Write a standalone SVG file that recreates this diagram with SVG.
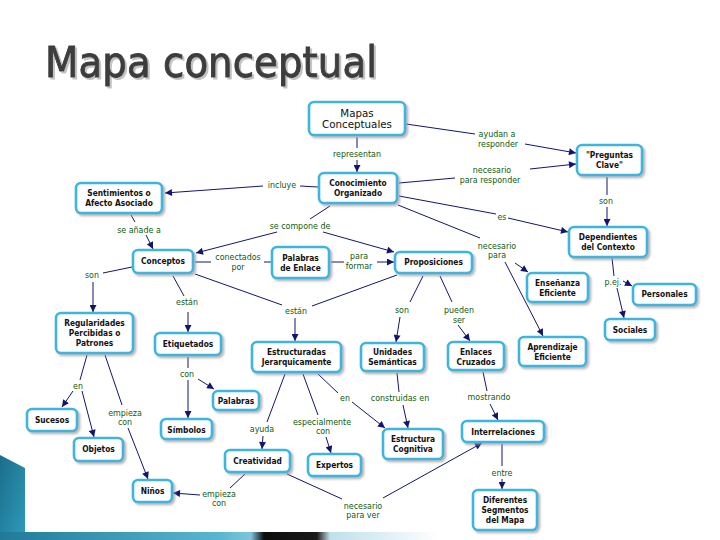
<svg xmlns="http://www.w3.org/2000/svg" width="720" height="540" viewBox="0 0 720 540">
<defs>
<filter id="ds" x="-20%" y="-20%" width="150%" height="160%">
<feDropShadow dx="2" dy="2" stdDeviation="0.8" flood-color="#9a9a9a" flood-opacity="0.7"/>
</filter>
<filter id="ts" x="-5%" y="-10%" width="110%" height="130%">
<feDropShadow dx="2" dy="2" stdDeviation="0.6" flood-color="#bdbdbd" flood-opacity="0.9"/>
</filter>
<marker id="ah" viewBox="0 0 10 10" refX="10" refY="5" markerWidth="8" markerHeight="7" markerUnits="userSpaceOnUse" orient="auto">
<path d="M0,0 L10,5 L0,10 Z" fill="#141470"/>
</marker>
<linearGradient id="lstrip" x1="0" y1="0" x2="1" y2="1">
<stop offset="0" stop-color="#1b6d8a"/>
<stop offset="1" stop-color="#2f9bbb"/>
</linearGradient>
<linearGradient id="bstrip" x1="0" y1="0" x2="1" y2="0">
<stop offset="0" stop-color="#1f7a98"/>
<stop offset="0.5" stop-color="#5ab6d0"/>
<stop offset="0.57" stop-color="#7cc6da"/>
<stop offset="0.6" stop-color="#0d0d0d"/>
<stop offset="0.72" stop-color="#1a1a1a"/>
<stop offset="0.75" stop-color="#bfe0ea"/>
<stop offset="1" stop-color="#ffffff"/>
</linearGradient>
</defs>
<style>
.box{fill:#ffffff;stroke:#3db5df;stroke-width:2.6}
.nt{font-family:"DejaVu Sans Condensed","DejaVu Sans",sans-serif;font-weight:bold;font-size:8.3px;fill:#111111;text-anchor:middle}
.mt{font-family:"DejaVu Sans",sans-serif;font-size:10.3px;fill:#111111;text-anchor:middle}
.lb{font-family:"DejaVu Sans Condensed","DejaVu Sans",sans-serif;font-size:8.8px;fill:#0e5a0e;text-anchor:middle}
.cn{stroke:#141470;stroke-width:1;fill:none}
.ar{marker-end:url(#ah)}
.title{font-family:"DejaVu Sans Condensed","DejaVu Sans",sans-serif;font-size:43px;fill:#3c3c3c;stroke:#3c3c3c;stroke-width:0.9}
</style>
<rect width="720" height="540" fill="#ffffff"/>
<g id="decoration">
<polygon points="0,455 25,468 25,540 0,540" fill="url(#lstrip)"/>
<rect x="0" y="532" width="440" height="8" fill="url(#bstrip)"/>
</g>
<text class="title" x="45" y="77" textLength="332" lengthAdjust="spacingAndGlyphs" filter="url(#ts)">Mapa conceptual</text>

<g id="connectors">
<line class="cn" x1="357" y1="137" x2="357" y2="148"/>
<line class="cn ar" x1="357" y1="160" x2="357" y2="172"/>
<line class="cn" x1="318" y1="187" x2="300" y2="186"/>
<line class="cn ar" x1="263" y1="186" x2="165" y2="193"/>
<line class="cn" x1="131" y1="215" x2="135" y2="222"/>
<line class="cn ar" x1="146" y1="235" x2="153" y2="249"/>
<line class="cn" x1="330" y1="206" x2="310" y2="219"/>
<line class="cn ar" x1="277" y1="232" x2="196" y2="253"/>
<line class="cn ar" x1="323" y1="232" x2="394" y2="252"/>
<line class="cn" x1="195" y1="262" x2="211" y2="262"/>
<line class="cn" x1="264" y1="262" x2="271" y2="262"/>
<line class="cn" x1="331" y1="262" x2="344" y2="262"/>
<line class="cn ar" x1="377" y1="262" x2="394" y2="262"/>
<line class="cn" x1="173" y1="276" x2="184" y2="296"/>
<line class="cn ar" x1="188" y1="312" x2="188" y2="332"/>
<line class="cn" x1="195" y1="274" x2="282" y2="305"/>
<line class="cn" x1="397" y1="275" x2="312" y2="306"/>
<line class="cn ar" x1="295" y1="318" x2="295" y2="341"/>
<line class="cn" x1="132" y1="267" x2="103" y2="273"/>
<line class="cn ar" x1="93" y1="282" x2="93" y2="312"/>
<line class="cn" x1="423" y1="276" x2="410" y2="302"/>
<line class="cn ar" x1="400" y1="317" x2="396" y2="342"/>
<line class="cn" x1="440" y1="276" x2="452" y2="302"/>
<line class="cn ar" x1="458" y1="325" x2="470" y2="341"/>
<line class="cn" x1="406" y1="124" x2="475" y2="134"/>
<line class="cn ar" x1="525" y1="144" x2="576" y2="153"/>
<line class="cn" x1="399" y1="183" x2="455" y2="178"/>
<line class="cn ar" x1="530" y1="169" x2="576" y2="164"/>
<line class="cn" x1="399" y1="196" x2="496" y2="214"/>
<line class="cn ar" x1="508" y1="218" x2="568" y2="232"/>
<line class="cn" x1="607" y1="177" x2="607" y2="195"/>
<line class="cn ar" x1="607" y1="207" x2="607" y2="226"/>
<line class="cn" x1="398" y1="205" x2="480" y2="238"/>
<line class="cn ar" x1="515" y1="263" x2="528" y2="272"/>
<line class="cn ar" x1="505" y1="262" x2="543" y2="336"/>
<line class="cn" x1="612" y1="258" x2="614" y2="276"/>
<line class="cn ar" x1="617" y1="288" x2="624" y2="318"/>
<line class="cn ar" x1="623" y1="281" x2="632" y2="286"/>
<line class="cn" x1="87" y1="355" x2="80" y2="380"/>
<line class="cn ar" x1="73" y1="391" x2="62" y2="407"/>
<line class="cn ar" x1="82" y1="391" x2="94" y2="437"/>
<line class="cn" x1="105" y1="355" x2="122" y2="405"/>
<line class="cn ar" x1="128" y1="428" x2="148" y2="479"/>
<line class="cn" x1="188" y1="357" x2="188" y2="368"/>
<line class="cn ar" x1="188" y1="380" x2="188" y2="418"/>
<line class="cn ar" x1="198" y1="379" x2="214" y2="389"/>
<line class="cn" x1="285" y1="374" x2="267" y2="422"/>
<line class="cn ar" x1="263" y1="436" x2="262" y2="449"/>
<line class="cn" x1="303" y1="374" x2="318" y2="415"/>
<line class="cn ar" x1="326" y1="437" x2="331" y2="453"/>
<line class="cn" x1="318" y1="374" x2="338" y2="393"/>
<line class="cn ar" x1="352" y1="402" x2="385" y2="428"/>
<line class="cn" x1="397" y1="373" x2="399" y2="392"/>
<line class="cn ar" x1="403" y1="405" x2="408" y2="428"/>
<line class="cn" x1="483" y1="372" x2="487" y2="391"/>
<line class="cn ar" x1="490" y1="404" x2="498" y2="420"/>
<line class="cn" x1="502" y1="444" x2="502" y2="466"/>
<line class="cn ar" x1="502" y1="479" x2="502" y2="489"/>
<line class="cn" x1="245" y1="474" x2="230" y2="488"/>
<line class="cn ar" x1="200" y1="495" x2="173" y2="493"/>
<line class="cn" x1="287" y1="474" x2="342" y2="499"/>
<line class="cn ar" x1="383" y1="498" x2="482" y2="443"/>
</g>

<g id="labels">
<text class="lb" x="357" y="157">representan</text>
<text class="lb" x="282" y="188">incluye</text>
<text class="lb" x="139" y="233">se añade a</text>
<text class="lb" x="300" y="229">se compone de</text>
<text class="lb" x="238" y="260">conectados</text>
<text class="lb" x="238" y="270">por</text>
<text class="lb" x="359" y="259">para</text>
<text class="lb" x="359" y="269">formar</text>
<text class="lb" x="187" y="305">están</text>
<text class="lb" x="296" y="314">están</text>
<text class="lb" x="92" y="278">son</text>
<text class="lb" x="402" y="313">son</text>
<text class="lb" x="459" y="313">pueden</text>
<text class="lb" x="459" y="323">ser</text>
<text class="lb" x="497" y="137">ayudan a</text>
<text class="lb" x="498" y="147">responder</text>
<text class="lb" x="492" y="173">necesario</text>
<text class="lb" x="490" y="183">para responder</text>
<text class="lb" x="502" y="220">es</text>
<text class="lb" x="606" y="204">son</text>
<text class="lb" x="497" y="249">necesario</text>
<text class="lb" x="497" y="258">para</text>
<text class="lb" x="613" y="285">p.ej.</text>
<text class="lb" x="78" y="389">en</text>
<text class="lb" x="125" y="416">empieza</text>
<text class="lb" x="125" y="425">con</text>
<text class="lb" x="187" y="377">con</text>
<text class="lb" x="262" y="432">ayuda</text>
<text class="lb" x="322" y="425">especialmente</text>
<text class="lb" x="323" y="434">con</text>
<text class="lb" x="345" y="401">en</text>
<text class="lb" x="400" y="401">construidas en</text>
<text class="lb" x="489" y="400">mostrando</text>
<text class="lb" x="502" y="476">entre</text>
<text class="lb" x="219" y="497">empieza</text>
<text class="lb" x="219" y="506">con</text>
<text class="lb" x="363" y="509">necesario</text>
<text class="lb" x="363" y="518">para ver</text>
</g>

<g id="n-mapas"><rect class="box" filter="url(#ds)" x="309" y="102" width="96" height="33" rx="5"/><text class="mt" x="357" y="117">Mapas</text><text class="mt" x="357" y="128">Conceptuales</text></g>
<g id="n-conocimiento"><rect class="box" filter="url(#ds)" x="319" y="173" width="78" height="30" rx="5"/><text class="nt" x="358" y="186">Conocimiento</text><text class="nt" x="358" y="196">Organizado</text></g>
<g id="n-sentimientos"><rect class="box" filter="url(#ds)" x="76" y="183" width="86" height="30" rx="5"/><text class="nt" x="119" y="196">Sentimientos o</text><text class="nt" x="119" y="206">Afecto Asociado</text></g>
<g id="n-preguntas"><rect class="box" filter="url(#ds)" x="577" y="145" width="65" height="30" rx="5"/><text class="nt" x="609.5" y="158">"Preguntas</text><text class="nt" x="609.5" y="168">Clave"</text></g>
<g id="n-dependientes"><rect class="box" filter="url(#ds)" x="569" y="227" width="78" height="30" rx="5"/><text class="nt" x="608" y="240">Dependientes</text><text class="nt" x="608" y="250">del Contexto</text></g>
<g id="n-conceptos"><rect class="box" filter="url(#ds)" x="133" y="250" width="60" height="23" rx="5"/><text class="nt" x="163" y="264">Conceptos</text></g>
<g id="n-palabras-enlace"><rect class="box" filter="url(#ds)" x="272" y="247" width="57" height="31" rx="5"/><text class="nt" x="300.5" y="261">Palabras</text><text class="nt" x="300.5" y="271">de Enlace</text></g>
<g id="n-proposiciones"><rect class="box" filter="url(#ds)" x="395" y="252" width="77" height="21" rx="5"/><text class="nt" x="433.5" y="265">Proposiciones</text></g>
<g id="n-ensenanza"><rect class="box" filter="url(#ds)" x="527" y="273" width="61" height="29" rx="5"/><text class="nt" x="557.5" y="286">Enseñanza</text><text class="nt" x="557.5" y="296">Eficiente</text></g>
<g id="n-personales"><rect class="box" filter="url(#ds)" x="633" y="284" width="63" height="21" rx="5"/><text class="nt" x="664.5" y="297">Personales</text></g>
<g id="n-regularidades"><rect class="box" filter="url(#ds)" x="56" y="313" width="77" height="40" rx="5"/><text class="nt" x="94.5" y="326">Regularidades</text><text class="nt" x="94.5" y="336">Percibidas o</text><text class="nt" x="94.5" y="346">Patrones</text></g>
<g id="n-etiquetados"><rect class="box" filter="url(#ds)" x="155" y="333" width="66" height="22" rx="5"/><text class="nt" x="188" y="347">Etiquetados</text></g>
<g id="n-estructuradas"><rect class="box" filter="url(#ds)" x="252" y="342" width="89" height="30" rx="5"/><text class="nt" x="296.5" y="355">Estructuradas</text><text class="nt" x="296.5" y="365">Jerarquicamente</text></g>
<g id="n-unidades"><rect class="box" filter="url(#ds)" x="361" y="343" width="63" height="28" rx="5"/><text class="nt" x="392.5" y="355">Unidades</text><text class="nt" x="392.5" y="365">Semánticas</text></g>
<g id="n-enlaces"><rect class="box" filter="url(#ds)" x="448" y="342" width="56" height="28" rx="5"/><text class="nt" x="476" y="355">Enlaces</text><text class="nt" x="476" y="365">Cruzados</text></g>
<g id="n-aprendizaje"><rect class="box" filter="url(#ds)" x="519" y="337" width="67" height="29" rx="5"/><text class="nt" x="552.5" y="350">Aprendizaje</text><text class="nt" x="552.5" y="360">Eficiente</text></g>
<g id="n-sociales"><rect class="box" filter="url(#ds)" x="605" y="319" width="50" height="21" rx="5"/><text class="nt" x="630" y="333">Sociales</text></g>
<g id="n-sucesos"><rect class="box" filter="url(#ds)" x="27" y="409" width="50" height="22" rx="5"/><text class="nt" x="52" y="423">Sucesos</text></g>
<g id="n-palabras"><rect class="box" filter="url(#ds)" x="213" y="391" width="46" height="19" rx="5"/><text class="nt" x="236" y="404">Palabras</text></g>
<g id="n-objetos"><rect class="box" filter="url(#ds)" x="74" y="438" width="49" height="23" rx="5"/><text class="nt" x="98.5" y="452">Objetos</text></g>
<g id="n-simbolos"><rect class="box" filter="url(#ds)" x="161" y="419" width="51" height="20" rx="5"/><text class="nt" x="186.5" y="433">Símbolos</text></g>
<g id="n-estructura"><rect class="box" filter="url(#ds)" x="383" y="429" width="60" height="30" rx="5"/><text class="nt" x="413" y="442">Estructura</text><text class="nt" x="413" y="452">Cognitiva</text></g>
<g id="n-interrelaciones"><rect class="box" filter="url(#ds)" x="462" y="421" width="82" height="21" rx="5"/><text class="nt" x="503" y="435">Interrelaciones</text></g>
<g id="n-creatividad"><rect class="box" filter="url(#ds)" x="225" y="450" width="65" height="22" rx="5"/><text class="nt" x="257.5" y="464">Creatividad</text></g>
<g id="n-expertos"><rect class="box" filter="url(#ds)" x="308" y="454" width="53" height="22" rx="5"/><text class="nt" x="334.5" y="468">Expertos</text></g>
<g id="n-ninos"><rect class="box" filter="url(#ds)" x="133" y="480" width="39" height="22" rx="5"/><text class="nt" x="152.5" y="494">Niños</text></g>
<g id="n-diferentes"><rect class="box" filter="url(#ds)" x="473" y="490" width="64" height="40" rx="5"/><text class="nt" x="505" y="503">Diferentes</text><text class="nt" x="505" y="513">Segmentos</text><text class="nt" x="505" y="523">del Mapa</text></g>
</svg>
